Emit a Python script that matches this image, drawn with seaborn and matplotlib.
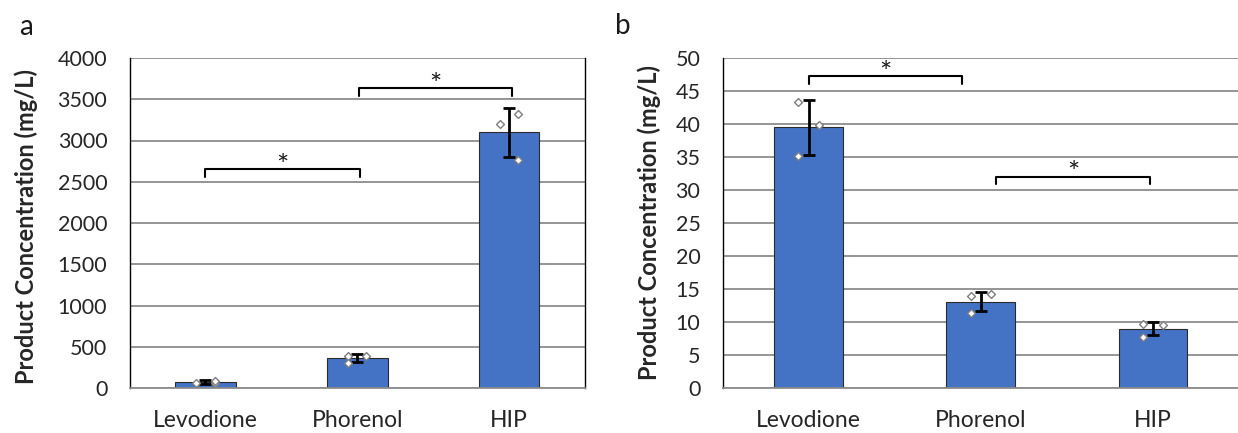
import numpy as np
import pandas as pd
import seaborn as sns
import matplotlib
matplotlib.use("Agg")
import matplotlib.pyplot as plt

# values
categories = ["Levodione", "Phorenol", "HIP"]

a_mean = [69, 365, 3097]
a_sd = [22, 48, 293]
a_reps = [[64, 57, 88], [391, 307, 386], [3196, 3321, 2760]]

b_mean = [39.5, 13.1, 9.0]
b_sd = [4.15, 1.45, 0.95]
b_reps = [[43.4, 35.2, 39.9], [13.9, 11.4, 14.2], [9.7, 7.8, 9.5]]

# replicate side (-1 left of centre, +1 right)
a_side = [[-1, 1, 1], [-1, -1, 1], [-1, 1, 1]]
b_side = [[-1, -1, 1], [-1, -1, 1], [-1, -1, 1]]

# significance brackets: start, end, top, drop
a_brackets = [(0.0, 1.02, 2655, 92), (1.01, 2.02, 3636, 91)]
b_brackets = [(0.0, 0.89, 47.2, 1.1), (1.09, 1.98, 32.0, 1.1)]

BAR = "#4472C4"
GRID = "#8c8c8c"

sns.set_style("white")
plt.rcParams["font.family"] = ["Lato", "DejaVu Sans"]
plt.rcParams["text.color"] = "#1a1a1a"


def draw_panel(ax, mean, sd, reps, side, brackets, ymax, ystep, right_spine):
    df = pd.DataFrame({"cat": categories, "val": mean})
    sns.barplot(data=df, x="cat", y="val", color=BAR, saturation=1, width=0.4,
                edgecolor="#2b2b2b", linewidth=0.8, ax=ax, zorder=2)
    ax.errorbar(range(len(categories)), mean, yerr=sd, fmt="none", ecolor="black",
                elinewidth=2, capsize=4, capthick=2, zorder=3)

    pts = []
    for i, (vals, sides) in enumerate(zip(reps, side)):
        for v, s in zip(vals, sides):
            pts.append({"x": i + 0.06 * s, "y": v})
    pts = pd.DataFrame(pts)
    sns.scatterplot(data=pts, x="x", y="y", marker="D", s=16, color="white",
                    edgecolor="#7f7f7f", linewidth=1, ax=ax, zorder=4)

    for x0, x1, top, drop in brackets:
        ax.plot([x0, x0, x1, x1], [top - drop, top, top, top - drop],
                color="black", lw=1.5, zorder=5, clip_on=False)
        ax.annotate("*", ((x0 + x1) / 2, top), xytext=(0, -4), textcoords="offset points",
                    ha="center", va="baseline", fontsize=21)

    ax.set_xlim(-0.5, 2.5)
    ax.set_ylim(0, ymax)
    ax.set_yticks(np.arange(0, ymax + ystep / 2, ystep))
    ax.yaxis.grid(True, color=GRID, lw=1.3)
    ax.set_axisbelow(True)

    ax.set_xticks([-0.5, 0.5, 1.5, 2.5])
    ax.set_xticklabels([])
    ax.set_xticks([0, 1, 2], minor=True)
    ax.set_xticklabels(categories, minor=True)
    ax.tick_params(axis="x", which="major", direction="out", length=6.5, width=1, color="black")
    ax.tick_params(axis="x", which="minor", length=0, pad=16, labelsize=16.5)
    ax.tick_params(axis="y", direction="out", length=6, width=1, color="#595959",
                   pad=10, labelsize=15.5)

    ax.set_xlabel("")
    ax.set_ylabel("Product Concentration (mg/L)", fontsize=17, fontweight="bold")
    for s in ["top", "right"]:
        ax.spines[s].set_visible(False)
    ax.spines["left"].set_color("black")
    ax.spines["left"].set_linewidth(1)
    ax.spines["bottom"].set_color(GRID)
    ax.spines["bottom"].set_linewidth(1.3)
    if right_spine:
        ax.spines["right"].set_visible(True)
        ax.spines["right"].set_color("black")
        ax.spines["right"].set_linewidth(1)


fig = plt.figure(figsize=(12.38, 4.33), dpi=100)
ax_a = fig.add_axes([129.5 / 1238, 1 - 388 / 433, 455.5 / 1238, 330 / 433])
ax_b = fig.add_axes([722.7 / 1238, 1 - 388 / 433, 516.3 / 1238, 330 / 433])

draw_panel(ax_a, a_mean, a_sd, a_reps, a_side, a_brackets, 4000, 500, True)
draw_panel(ax_b, b_mean, b_sd, b_reps, b_side, b_brackets, 50, 5, False)

ax_a.yaxis.set_label_coords(-0.201, 0.49)
ax_b.yaxis.set_label_coords(-0.1195, 0.50)

fig.text(26 / 1238, 1 - 27 / 433, "a", ha="center", va="center", fontsize=20)
fig.text(623 / 1238, 1 - 26 / 433, "b", ha="center", va="center", fontsize=20)

fig.savefig("out.png", dpi=100)
